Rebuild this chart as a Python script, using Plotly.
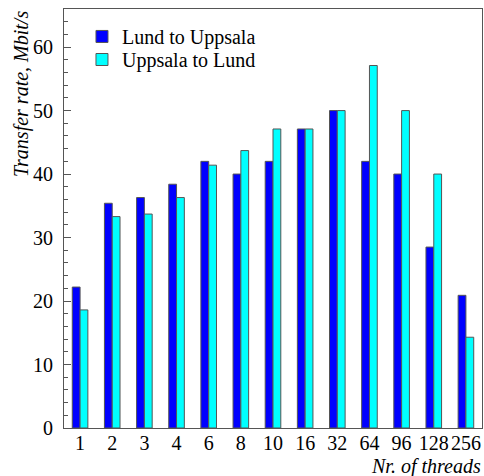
import plotly.graph_objects as go

threads = ["1", "2", "3", "4", "6", "8", "10", "16", "32", "64", "96", "128", "256"]
lund_to_uppsala = [22.2, 35.4, 36.3, 38.4, 42.0, 40.0, 42.0, 47.1, 50.0, 42.0, 40.0, 28.5, 20.9]
uppsala_to_lund = [18.6, 33.3, 33.7, 36.3, 41.4, 43.7, 47.1, 47.1, 50.0, 57.1, 50.0, 40.0, 14.3]

FONT = "Liberation Serif"
FS = 20

fig = go.Figure()
fig.add_trace(go.Bar(x=threads, y=lund_to_uppsala, name="Lund to Uppsala", legend="legend",
                     marker=dict(color="#0000ff", line=dict(color="#555555", width=1))))
fig.add_trace(go.Bar(x=threads, y=uppsala_to_lund, name="Uppsala to Lund", legend="legend2",
                     marker=dict(color="#00ffff", line=dict(color="#555555", width=1))))

leg_common = dict(xanchor="left", yanchor="top", bgcolor="rgba(0,0,0,0)",
                  font=dict(family=FONT, size=FS), itemwidth=30)

fig.update_layout(
    width=484, height=476,
    margin=dict(l=64, r=2, t=9, b=48),
    paper_bgcolor="white", plot_bgcolor="white",
    font=dict(family=FONT, size=FS, color="black"),
    barmode="group", bargap=0.515, bargroupgap=0,
    showlegend=True,
    legend=dict(x=0.043, y=0.981, **leg_common),
    legend2=dict(x=0.043, y=0.926, **leg_common),
    xaxis=dict(type="category", showline=True, linecolor="#555555", linewidth=1,
               mirror=True, ticks="", showgrid=False, range=[-0.5, 12.5],
               ticklabelstandoff=-3,
               tickfont=dict(family=FONT, size=FS)),
    yaxis=dict(range=[0, 66], dtick=10, tick0=0, ticks="inside", ticklen=7,
               tickcolor="#555555", showline=True, linecolor="#555555", linewidth=1,
               mirror=True, showgrid=False, zeroline=False,
               ticklabelstandoff=6,
               minor=dict(dtick=2, ticks="inside", ticklen=4, tickcolor="#555555", showgrid=False),
               tickfont=dict(family=FONT, size=FS)),
    annotations=[
        dict(text="<i>Transfer rate, Mbit/s</i>", textangle=-90, xref="paper", yref="paper",
             x=-0.103, y=1.0, xanchor="center", yanchor="top", showarrow=False,
             font=dict(family=FONT, size=FS)),
        dict(text="<i>Nr. of threads</i>", xref="paper", yref="paper",
             x=1.003, y=-0.093, xanchor="right", yanchor="middle", showarrow=False,
             font=dict(family=FONT, size=FS)),
    ],
)

fig.write_html("out.html", config={"displayModeBar": False},
               post_script="document.body.style.margin='0';")
